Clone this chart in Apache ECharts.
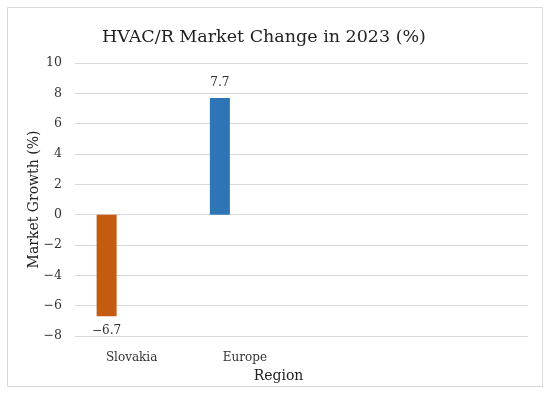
<!DOCTYPE html>
<html><head><meta charset="utf-8">
<script src="https://cdn.jsdelivr.net/npm/echarts@6/dist/echarts.min.js"></script>
<style>html,body{margin:0;padding:0;background:#fff}#c{width:550px;height:396px}</style>
</head><body><div id="c"></div>
<script>
const categories = ['Slovakia', 'Europe', '', ''];
const growthValues = [-6.7, 7.7, null, null];
const barColors = ['#C55A11', '#2E75B6'];
const placeholderValues = [null, null, null, null];
const yTicks = {min: -8, max: 10, interval: 2};

const F = 'DejaVu Serif';
const minus = s => String(s).replace('-', '\u2212');
const chart = echarts.init(document.getElementById('c'));
chart.setOption({
  animation: false,
  backgroundColor: '#fff',
  graphic: [{type: 'rect', shape: {x: 7.5, y: 7.5, width: 535, height: 379}, style: {fill: 'none', stroke: '#d9d9d9', lineWidth: 1}}],
  title: {text: 'HVAC/R Market Change in 2023 (%)', left: 97, top: 23,
    textStyle: {fontFamily: F, fontWeight: 'normal', fontSize: 17.5, color: '#222'}},
  grid: {left: 75, right: 22, top: 63, bottom: 60},
  xAxis: {type: 'category', data: categories, position: 'bottom',
    axisLine: {show: false, onZero: false}, axisTick: {show: false},
    axisLabel: {fontFamily: F, fontSize: 12, color: '#333', margin: 16},
    name: 'Region', nameLocation: 'middle', nameGap: 30,
    nameTextStyle: {fontFamily: F, fontSize: 14, color: '#222', padding: [0, 46, 0, 0]}},
  yAxis: {type: 'value', min: yTicks.min, max: yTicks.max, interval: yTicks.interval,
    axisLine: {show: false}, axisTick: {show: false},
    splitLine: {lineStyle: {color: '#d9d9d9', width: 1}},
    axisLabel: {fontFamily: F, fontSize: 12.5, color: '#333', margin: 13, formatter: v => minus(v)},
    name: 'Market Growth (%)', nameLocation: 'middle', nameGap: 34, nameMoveOverlap: false,
    nameTextStyle: {fontFamily: F, fontSize: 14, color: '#222'}},
  series: [
    {type: 'bar', barWidth: 20, barGap: '150%',
     data: growthValues.map((v, i) => v == null ? null : {value: v, itemStyle: {color: barColors[i]}}),
     label: {show: true, fontFamily: F, fontSize: 12, color: '#333', distance: 9,
       position: 'outside', formatter: p => minus(p.value)}},
    {type: 'bar', barWidth: 20, data: placeholderValues}
  ]
});
</script></body></html>
